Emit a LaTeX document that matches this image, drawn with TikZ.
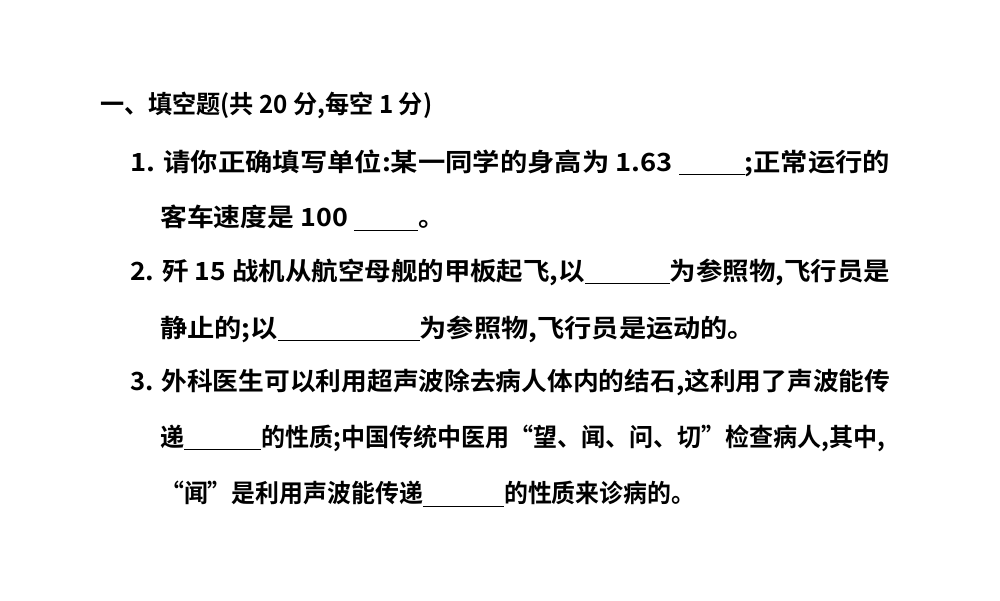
\documentclass[tikz,border=0pt]{standalone}
\usepackage{fontspec}
\usepackage{graphicx}
\setmainfont{Noto Sans CJK SC Bold}
\newcommand{\blank}[1]{\rule[-4pt]{#1pt}{0.8pt}}
\newcommand{\fitw}[2]{\resizebox{#1pt}{\height}{#2}}
\begin{document}
\begin{tikzpicture}[x=1pt,y=-1pt]
\useasboundingbox (0,0) rectangle (1000,600);
\tikzset{ln/.style={anchor=west,inner sep=0pt,font=\fontsize{25}{25}\selectfont}}
\node[ln] (l1) at (100,105) {\fitw{332}{一、填空题(共 20 分,每空 1 分)}};
\node[ln] (l2) at (130,163) {\fitw{760}{1. 请你正确填写单位:某一同学的身高为 1.63 \blank{60};正常运行的}};
\node[ln] (l3) at (160,218) {\fitw{285}{客车速度是 100 \blank{60}。}};
\node[ln] (l4) at (130,272) {\fitw{760}{2. 歼 15 战机从航空母舰的甲板起飞,以\blank{80}为参照物,飞行员是}};
\node[ln] (l5) at (160,329) {\fitw{595}{静止的;以\blank{130}为参照物,飞行员是运动的。}};
\node[ln] (l6) at (130,382) {\fitw{760}{3. 外科医生可以利用超声波除去病人体内的结石,这利用了声波能传}};
\node[ln] (l7) at (160,438) {\fitw{725}{递\blank{80}的性质;中国传统中医用“望、闻、问、切”检查病人,其中,}};
\node[ln] (l8) at (160,494) {\fitw{535}{“闻”是利用声波能传递\blank{85}的性质来诊病的。}};
\end{tikzpicture}
\end{document}
